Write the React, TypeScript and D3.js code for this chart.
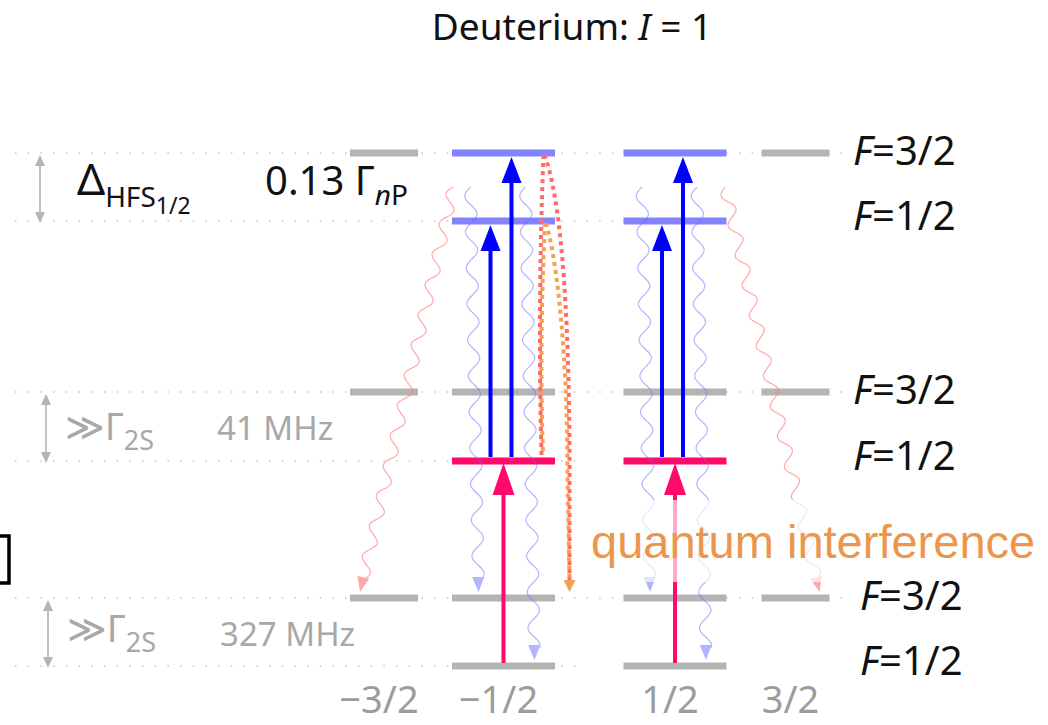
import React from 'react';
import * as d3 from 'd3';

// magnetic sub-levels (columns)
const mValues = [-1.5, -0.5, 0.5, 1.5];
const mLabels = ['−3/2', '−1/2', '1/2', '3/2'];

// hyperfine levels, top to bottom
const levelIds = ['nP32', 'nP12', '2S32', '2S12', '1S32', '1S12'];
const levelF = ['3/2', '1/2', '3/2', '1/2', '3/2', '1/2'];
const levelManifold = ['nP', 'nP', '2S', '2S', '1S', '1S'];
const levelSublevels = [
    [-1.5, -0.5, 0.5, 1.5],
    [-0.5, 0.5],
    [-1.5, -0.5, 0.5, 1.5],
    [-0.5, 0.5],
    [-1.5, -0.5, 0.5, 1.5],
    [-0.5, 0.5],
];

// laser excitations
const excitations2S = [
    {m: -0.5, from: '1S12', to: '2S12'},
    {m: 0.5, from: '1S12', to: '2S12'},
];
const excitationsNP = [
    {m: -0.5, from: '2S12', to: 'nP12'},
    {m: -0.5, from: '2S12', to: 'nP32'},
    {m: 0.5, from: '2S12', to: 'nP12'},
    {m: 0.5, from: '2S12', to: 'nP32'},
];

// spontaneous decays nP -> 1S
const decays = [
    {mFrom: -0.5, mTo: -0.5, to: '1S32', side: -1},
    {mFrom: -0.5, mTo: -0.5, to: '1S12', side: 1},
    {mFrom: 0.5, mTo: 0.5, to: '1S32', side: -1},
    {mFrom: 0.5, mTo: 0.5, to: '1S12', side: 1},
    {mFrom: -0.5, mTo: -1.5, to: '1S32', side: -1},
    {mFrom: 0.5, mTo: 1.5, to: '1S32', side: 1},
];

// interfering decay paths
const interference = [
    {from: 'nP32', colour: '#ff6b6b'},
    {from: 'nP12', colour: '#f5a04e'},
];

// splitting annotations
const splittings = [
    {upper: 'nP32', lower: 'nP12'},
    {upper: '2S32', lower: '2S12'},
    {upper: '1S32', lower: '1S12'},
];
const splittingValues = ['0.13', '41 MHz', '327 MHz'];

const W = 1048, H = 725;

const x = d3.scaleOrdinal<number, number>().domain(mValues).range([384, 503.5, 675, 795.5]);
const halfW = d3.scaleOrdinal<number, number>().domain(mValues).range([34, 51.5, 51.5, 34]);
const y = d3.scaleOrdinal<string, number>().domain(levelIds).range([153, 221, 392, 461, 598, 666]);
const guideEnd = d3.scaleOrdinal<string, number>().domain(levelIds).range([845, 622, 845, 578, 845, 578]);

const grey = '#b4b4b4';
const textGrey = '#a8a8a8';
const sans = '"Noto Sans", "DejaVu Sans", sans-serif';

function levelColour(id, m) {
    if (Math.abs(m) > 1) return grey;
    if (id === 'nP32' || id === 'nP12') return '#8383ff';
    if (id === '2S12') return '#ff0a6a';
    return grey;
}

function wavy(x0, y0, x1, y1, wl, amp) {
    const dx = x1 - x0, dy = y1 - y0, L = Math.hypot(dx, dy);
    const ux = dx / L, uy = dy / L;
    const pts = [];
    const n = Math.ceil(L / 2);
    for (let i = 0; i <= n; i++) {
        const t = (i / n) * L;
        const s = amp * Math.sin((2 * Math.PI * t) / wl);
        pts.push([x0 + ux * t - uy * s, y0 + uy * t + ux * s]);
    }
    return d3.line().curve(d3.curveBasis)(pts);
}

function head(tx, ty, dx, dy, len, hw) {
    const L = Math.hypot(dx, dy), ux = dx / L, uy = dy / L;
    const bx = tx - ux * len, by = ty - uy * len;
    return `M${tx},${ty}L${bx - uy * hw},${by + ux * hw}L${bx + uy * hw},${by - ux * hw}Z`;
}

export default function App() {
    const startY = (y('nP32') + y('nP12')) / 2;

    return (
        <svg width={W} height={H} style={{position: 'absolute', left: 0, top: 0, background: '#fff'}}>
            {/* dotted guides */}
            {levelIds.map(id => (
                <line key={'g' + id} x1={15} x2={guideEnd(id)} y1={y(id)} y2={y(id)}
                    stroke="#c4c4c4" strokeWidth={1.5} strokeDasharray="1.5 11.2" />
            ))}

            {/* levels */}
            {levelIds.map((id, i) => levelSublevels[i].map(m => (
                <rect key={id + m} x={x(m) - halfW(m)} y={y(id) - 3.5} width={2 * halfW(m)} height={7}
                    fill={levelColour(id, m)} />
            )))}

            {/* spontaneous decays */}
            {decays.map((d, i) => {
                const cross = d.mTo !== d.mFrom;
                const x0 = cross ? x(d.mFrom) + d.side * 50 : x(d.mFrom) + (d.side < 0 ? -33 : 22);
                const xt = cross ? x(d.mTo) + d.side * 24 : x(d.mFrom) + (d.side < 0 ? -25 : 31);
                const yt = y(d.to) - 6;
                const L = Math.hypot(xt - x0, yt - startY);
                const ux = (xt - x0) / L, uy = (yt - startY) / L;
                const col = cross ? '#ff7070' : '#6a6aff';
                return (
                    <g key={'d' + i} opacity={cross ? 0.6 : 0.5}>
                        <path d={wavy(x0, startY, xt - ux * 12, yt - uy * 12, cross ? 31 : 36, 6)}
                            fill="none" stroke={col} strokeWidth={1.2} />
                        <path d={head(xt, yt, ux, uy, 15, 6)} fill={col} />
                    </g>
                );
            })}

            {/* laser excitations */}
            {excitations2S.map((e, i) => {
                const xx = x(e.m);
                const tip = y(e.to) + 2;
                return (
                    <g key={'e2' + i} fill="#ff0a6a">
                        <line x1={xx} x2={xx} y1={y(e.from) - 3} y2={tip + 28} stroke="#ff0a6a" strokeWidth={4} />
                        <path d={head(xx, tip, 0, -1, 32, 11)} />
                    </g>
                );
            })}
            {excitationsNP.map((e, i) => {
                const xx = x(e.m) + (e.to === 'nP12' ? -13 : 8);
                const tip = y(e.to) + 4;
                return (
                    <g key={'en' + i} fill="#0000ff">
                        <line x1={xx} x2={xx} y1={y(e.from) - 4} y2={tip + 22} stroke="#0000ff" strokeWidth={4} />
                        <path d={head(xx, tip, 0, -1, 26, 10)} />
                    </g>
                );
            })}

            {/* interference paths */}
            {interference.map((p, i) => {
                const x0 = x(-0.5) + 40 + i * 1.5;
                const y0 = y(p.from) + 2;
                const xr = x(-0.5) + 66;
                const left = d3.path();
                left.moveTo(x0, y0);
                left.quadraticCurveTo(x0 - 6, (y0 + y('2S12')) / 2, x0 - 2, y('2S12') - 6);
                const right = d3.path();
                right.moveTo(x0 + 1, y0);
                right.bezierCurveTo(x0 + 16 - i * 3, y0 + 40, xr - i * 2, y0 + 140, xr - i * 2, y('2S12') + 10);
                right.lineTo(xr, y('1S32') - 16);
                return (
                    <g key={'q' + i} fill="none" stroke={p.colour} strokeWidth={4} strokeDasharray="4 4">
                        <path d={left.toString()} />
                        <path d={right.toString()} />
                    </g>
                );
            })}
            <path d={head(x(-0.5) + 66, y('1S32') - 6, 0, 1, 12, 6)} fill="#f5a04e" />

            {/* translucent backing of the label */}
            <rect x={585} y={500} width={463} height={82} fill="#fff" opacity={0.65} />

            {/* splitting arrows */}
            {splittings.map((s, i) => {
                const xx = [40, 46, 48][i];
                const y0 = y(s.upper) + 2, y1 = y(s.lower) + 2;
                return (
                    <g key={'s' + i} fill={grey}>
                        <line x1={xx} x2={xx} y1={y0 + 6} y2={y1 - 6} stroke={grey} strokeWidth={1.6} />
                        <path d={head(xx, y0, 0, -1, 11, 5)} />
                        <path d={head(xx, y1, 0, 1, 11, 5)} />
                    </g>
                );
            })}

            {/* title */}
            <text x={572} y={40} textAnchor="middle" fontFamily={sans} fontSize={37} fill="#111">
                Deuterium: <tspan fontStyle="italic">I</tspan> = 1
            </text>

            {/* left annotations */}
            <text x={77} y={195} fontFamily={sans} fontSize={44} fill="#111">
                Δ<tspan fontSize={28} dy={12}>HFS</tspan><tspan fontSize={23} dy={7}>1/2</tspan>
            </text>
            <text x={265} y={195} fontFamily={sans} fontSize={40} fill="#111">
                {splittingValues[0]} Γ<tspan fontSize={28} dy={10} fontStyle="italic">n</tspan><tspan fontSize={28}>P</tspan>
            </text>
            {[1, 2].map(i => {
                const by = [0, 440, 642][i];
                return (
                    <g key={'gl' + i} fill={textGrey} fontFamily={sans}>
                        <text x={65 + (i - 1) * 2} y={by} fontSize={38}>
                            ≫Γ<tspan fontSize={27} dy={10}>2S</tspan>
                        </text>
                        <text x={217 + (i - 1) * 3} y={by + (i - 1) * 4} fontSize={33}>{splittingValues[i]}</text>
                    </g>
                );
            })}

            {/* F labels */}
            {levelIds.map((id, i) => (
                <text key={'f' + id} x={levelManifold[i] === '1S' ? 860 : 853} y={y(id) + (levelF[i] === '3/2' ? 12 : 9)}
                    fontFamily={sans} fontSize={40} fill="#111">
                    <tspan fontStyle="italic">F</tspan>=<tspan>{levelF[i]}</tspan>
                </text>
            ))}

            {/* m labels */}
            {mValues.map((m, i) => (
                <text key={'m' + i} x={x(m) - 5} y={713} textAnchor="middle" fontFamily={sans} fontSize={38} fill="#9c9c9c">
                    {mLabels[i]}
                </text>
            ))}

            <text x={591} y={558} fontFamily='"Liberation Sans", Arial, sans-serif' fontSize={47} fill="#eb964c">
                quantum interference
            </text>

            <path d="M0,536H9V583H0" fill="none" stroke="#000" strokeWidth={3.5} />
        </svg>
    );
}
